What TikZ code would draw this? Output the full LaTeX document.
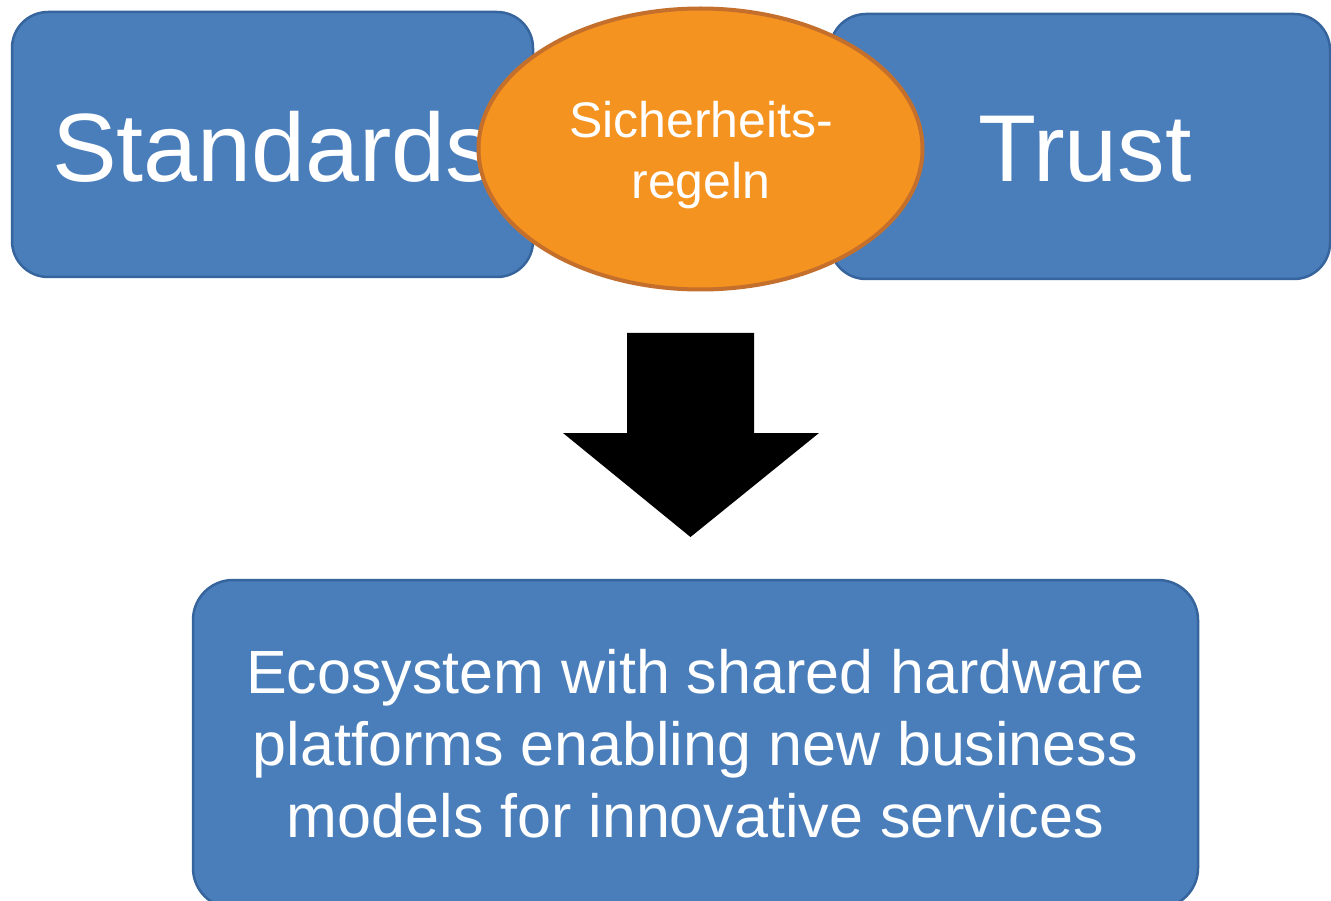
\documentclass[tikz,border=0pt]{standalone}
\usepackage{fontspec}
\setmainfont{Liberation Sans}
\usetikzlibrary{shapes.geometric}
\definecolor{boxblue}{HTML}{4A7EBB}
\definecolor{boxline}{HTML}{36649C}
\definecolor{ovalfill}{HTML}{F59320}
\definecolor{ovalline}{HTML}{C46F2C}
\tikzset{
  bluebox/.style={draw=boxline, line width=2.5pt, fill=boxblue, rounded corners=36pt, text=white, inner sep=0pt},
  oval/.style={ellipse, draw=ovalline, line width=4pt, fill=ovalfill, inner sep=0pt},
  whitetext/.style={text=white, inner sep=0pt, align=center},
}
\begin{document}
\begin{tikzpicture}[x=1pt,y=-1pt]
\useasboundingbox (0,0) rectangle (1331,901);
\fill[white] (0,0) rectangle (1331,901);
% top boxes
\node[bluebox, minimum width=521pt, minimum height=265pt] (std) at (272.5,144.5) {};
\node[whitetext, font=\fontsize{97}{116}\selectfont, anchor=base west] (stdtxt) at (52,182) {Standards};
\node[bluebox, minimum width=500pt, minimum height=265pt] (trust) at (1080,146.5) {};
\node[whitetext, font=\fontsize{95}{114}\selectfont, anchor=base] (trusttxt) at (1085,182) {Trust};
% oval
\node[oval, minimum width=444pt, minimum height=281pt] (rules) at (700.5,149) {};
\node[whitetext, font=\fontsize{50}{61}\selectfont] (rulestxt) at (701,155) {Sicherheits-\\regeln};
% bottom box
\node[bluebox, rounded corners=40pt, minimum width=1005pt, minimum height=328pt, align=center,
      font=\fontsize{61}{72}\selectfont] (eco) at (695.5,744) {Ecosystem with shared hardware\\platforms enabling new business\\models for innovative services};
% block arrow
\fill[black] (627,333) -- (754,333) -- (754,433) -- (819,433) -- (690.5,537) -- (563,433) -- (627,433) -- cycle;
\end{tikzpicture}
\end{document}
